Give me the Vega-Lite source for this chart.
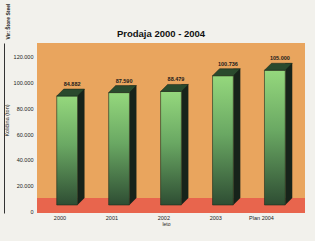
{
  "$schema": "https://vega.github.io/schema/vega-lite/v6.json",
  "autosize": "none",
  "width": 268,
  "height": 170,
  "padding": {"left": 37, "top": 43, "right": 10, "bottom": 28},
  "background": "#f2f1ec",
  "title": {"text": "Prodaja 2000 - 2004", "fontSize": 9.5, "font": "Liberation Sans", "fontWeight": "bold", "color": "#111111", "anchor": "middle", "dx": -10, "dy": 0, "offset": -35},
  "config": {
    "locale": {"number": {"decimal": ",", "thousands": ".", "grouping": [3], "currency": ["", " €"]}},
    "view": {"fill": "#e9a55e", "stroke": null},
    "font": "Liberation Sans",
    "axisY": {"labelOverlap": false}
  },
  "data": {"values": [
    {"leto": "2000", "kolicina": 84882},
    {"leto": "2001", "kolicina": 87590},
    {"leto": "2002", "kolicina": 88479},
    {"leto": "2003", "kolicina": 100736},
    {"leto": "Plan 2004", "kolicina": 105000}
  ]},
  "resolve": {"scale": {"y": "independent"}},
  "layer": [
    {
      "layer": [
        {
          "data": {"values": [{}]},
          "mark": {"type": "rect", "color": "#e8654d"},
          "encoding": {
            "y": {"datum": -1558, "type": "quantitative"},
            "y2": {"datum": 10130}
          }
        },
        {
          "mark": {"type": "bar", "width": 7, "xOffset": 13.9, "yOffset": -13, "y2Offset": -13, "color": "#17231a"},
          "encoding": {
            "x": {"field": "leto", "type": "nominal", "sort": null},
            "y": {"field": "kolicina", "type": "quantitative"},
            "y2": {"datum": 0}
          }
        },
        {
          "mark": {"type": "point", "filled": true, "opacity": 1, "shape": "M-1,-1L-1,1L1,-1Z", "size": 49, "xOffset": 13.9, "yOffset": -9.5, "color": "#17231a"},
          "encoding": {
            "x": {"field": "leto", "type": "nominal", "sort": null},
            "y": {"datum": 0, "type": "quantitative"}
          }
        },
        {
          "mark": {"type": "bar", "width": 20.8, "yOffset": -6, "y2Offset": -6, "stroke": "#1b2b1d", "strokeWidth": 0.6,
            "color": {"gradient": "linear", "x1": 0, "y1": 0, "x2": 0, "y2": 1, "stops": [
              {"offset": 0, "color": "#95d87d"},
              {"offset": 0.45, "color": "#6aa863"},
              {"offset": 1, "color": "#2e4d33"}
            ]}},
          "encoding": {
            "x": {"field": "leto", "type": "nominal", "sort": null,
              "scale": {"paddingInner": 0.6, "paddingOuter": 0.38},
              "axis": {"title": "leto", "labelAngle": 0, "labelOverlap": false, "labelFontSize": 5.5, "labelColor": "#222222", "labelPadding": 4, "labelOffset": -1, "domain": false, "ticks": false, "titleFontSize": 5, "titleFontWeight": "normal", "titlePadding": 1, "titleColor": "#222222", "titleX": 129}
            },
            "y": {"field": "kolicina", "type": "quantitative",
              "scale": {"domain": [-1558, 130909], "nice": false, "zero": false},
              "axis": {"title": "Količina (ton)", "values": [0, 20000, 40000, 60000, 80000, 100000, 120000], "tickCount": 10, "format": ",d", "grid": false, "domain": false, "ticks": false, "labelOverlap": false, "labelFontSize": 5.5, "labelColor": "#222222", "labelPadding": 4, "titleFontSize": 5.5, "titleFontWeight": "normal", "titleColor": "#222222", "titleX": -28, "titleY": 77}
            },
            "y2": {"datum": 0}
          }
        },
        {
          "mark": {"type": "point", "filled": true, "opacity": 1, "shape": "M-0.598,0L0.598,0L1,-0.402L-0.195,-0.402Z", "size": 1211, "yOffset": -6, "color": "#2a4a2d", "stroke": "#162318", "strokeWidth": 0.5},
          "encoding": {
            "x": {"field": "leto", "type": "nominal", "sort": null},
            "y": {"field": "kolicina", "type": "quantitative"}
          }
        },
        {
          "mark": {"type": "text", "fontSize": 5.5, "fontWeight": "bold", "color": "#1a1a1a", "xOffset": 5, "yOffset": -16, "baseline": "alphabetic"},
          "encoding": {
            "x": {"field": "leto", "type": "nominal", "sort": null},
            "y": {"field": "kolicina", "type": "quantitative"},
            "text": {"field": "kolicina", "type": "quantitative", "format": ",d"}
          }
        }
      ]
    },
    {
      "data": {"values": [{}]},
      "mark": {"type": "rule", "opacity": 0},
      "encoding": {
        "y": {"datum": 0, "type": "quantitative",
          "scale": {"domain": [0, 1]},
          "axis": {"orient": "left", "title": "Vir: Štore Steel", "labels": false, "ticks": false, "grid": false, "domain": true, "domainColor": "#333333", "domainWidth": 1, "offset": 33, "titleFontSize": 5, "titleFontWeight": "bold", "titleColor": "#111111", "titleX": 6, "titleY": -22, "titleAngle": -90, "titleAlign": "center"}
        }
      }
    }
  ]
}
